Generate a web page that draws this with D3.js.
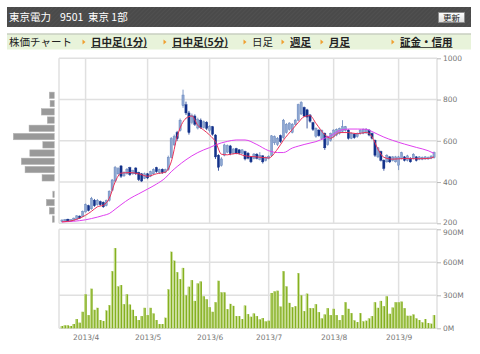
<!DOCTYPE html>
<html lang="ja">
<head>
<meta charset="UTF-8">
<title>東京電力 9501 日足</title>
<script src="https://d3js.org/d3.v7.min.js"></script>
<style>
body { margin: 0; background: #fff; }
svg text { font-family: "Noto Sans CJK JP", sans-serif; }
.axis text { font-family: "DejaVu Sans", sans-serif; font-size: 7.5px; fill: #777; }
.axis line { stroke: #bbb; }
.axis path { display: none; }
</style>
</head>
<body>
<svg id="chart" width="480" height="354"></svg>
<script>
// daily bars, 2013/3/19 .. 2013/9/19 (trading days)
var open  = [208,212,220,210,215,220,235,232,255,285,270,312,290,305,302,285,310,360,405,440,478,430,440,470,440,468,446,440,418,440,428,440,470,445,462,448,460,520,580,640,650,770,775,735,690,720,662,700,665,690,650,668,628,530,480,530,545,575,540,562,556,540,548,540,522,515,535,510,527,505,515,530,590,582,625,615,640,655,640,680,700,730,762,750,725,688,622,652,612,636,582,602,620,628,636,645,650,652,612,632,620,635,636,638,652,636,603,522,548,506,498,522,505,498,482,515,522,505,516,515,522,510,510,512,512,515,518];
var close = [216,218,212,218,225,236,225,258,290,262,320,285,312,290,280,310,355,410,470,465,428,445,462,436,455,440,412,405,440,420,450,460,450,460,446,460,520,610,620,610,700,822,735,640,722,680,702,665,692,660,670,632,522,472,512,580,576,538,560,540,540,556,512,516,498,536,515,530,498,520,525,624,620,612,596,700,680,686,680,700,775,785,720,715,695,655,660,625,650,566,620,636,652,655,660,668,668,612,636,615,636,652,656,656,628,612,530,566,506,466,530,498,522,522,522,542,505,527,498,535,505,522,520,522,520,526,543];
var high  = [219,221,222,220,228,240,238,262,296,290,328,318,318,310,306,315,360,415,478,472,482,452,468,474,460,472,450,444,446,444,455,466,474,465,466,465,528,618,630,648,708,848,790,745,732,728,712,708,698,695,676,672,632,535,520,586,582,580,565,566,560,560,552,545,526,540,540,545,530,524,530,628,626,618,630,706,686,690,686,706,780,792,766,755,730,692,665,656,655,640,625,640,656,660,664,700,672,656,640,636,640,656,660,662,656,640,606,570,552,510,535,526,526,527,527,547,526,532,520,540,526,526,524,526,524,530,548];
var low   = [205,209,209,208,213,218,222,230,252,258,266,280,286,285,275,282,305,355,400,435,420,425,436,430,435,434,405,400,414,414,424,436,445,440,440,443,455,515,575,600,645,760,725,630,680,672,655,658,660,652,640,625,512,455,475,525,540,530,535,535,534,536,505,510,492,510,510,505,490,500,510,526,580,575,590,610,635,650,636,675,695,725,715,660,688,648,615,620,605,556,576,596,616,622,630,640,645,606,608,610,615,630,632,634,622,606,522,516,500,455,494,492,500,494,458,510,500,500,494,510,500,506,506,508,508,511,514];
var volume = [21,27,27,21,39,84,51,150,309,120,360,168,186,75,66,162,210,519,729,381,393,219,309,216,168,111,75,111,186,120,186,135,75,39,39,96,354,696,615,510,447,549,300,378,438,249,408,426,291,264,192,150,237,432,327,327,174,222,204,111,111,84,207,129,105,135,111,81,93,63,69,321,336,342,198,519,381,231,192,201,501,300,156,315,183,183,219,147,90,126,183,120,177,120,75,120,237,177,138,72,57,138,63,69,90,111,237,186,249,201,291,132,189,237,237,243,183,114,114,126,90,75,54,84,48,42,120];

// moving averages, read at these bar indices
var maIdx   = [0,4,8,10,12,14,16,18,20,23,26,29,32,35,37,39,42,44,46,48,50,52,54,56,59,62,66,70,73,75,78,80,82,84,86,89,91,94,97,100,103,105,107,109,112,116,120,124,126];
var maShort = [207,215,239,258,280,288,320,400,443,446,440,428,440,448,498,620,709,720,675,652,628,595,535,532,539,527,522,517,560,603,655,688,717,722,685,630,612,640,640,634,641,620,560,520,511,514,513,514,522];
var maLong  = [207,210,217,223,230,238,247,268,290,320,343,366,390,420,450,475,508,527,543,556,567,580,590,597,604,604,582,552,543,543,565,574,582,589,596,613,624,650,657,657,656,645,631,618,602,584,568,552,539];

// volume by price (40 yen bins from 200)
var profileLow = [200,240,280,320,360,400,440,480,520,560,600,640,680,720,760,800];
var profileVol = [40,100,160,30,0,245,585,660,490,230,820,505,140,260,85,100];

var tickIdx    = [8,29,50,70,92,114];
var tickLabels = ["2013/4","2013/5","2013/6","2013/7","2013/8","2013/9"];
var priceTicks = [200,400,600,800,1000];
var volTicks   = [0,300,600,900];

var navItems = ["日中足(1分)","日中足(5分)","日足","週足","月足","証金・信用"];
var navX     = [91,172,252,290,329,400];
var navLink  = [true,true,false,true,true,true];

var svg = d3.select("#chart");
var n = close.length;

// ---- header ----
var defs = svg.append("defs");
var pat = defs.append("pattern").attr("id","hatch").attr("patternUnits","userSpaceOnUse")
  .attr("width",3).attr("height",3).attr("patternTransform","rotate(45)");
pat.append("rect").attr("width",3).attr("height",3).attr("fill","#4a4a4a");
pat.append("line").attr("x1",0).attr("y1",0).attr("x2",0).attr("y2",3).attr("stroke","#555").attr("stroke-width",1);

svg.append("rect").attr("x",7).attr("y",7).attr("width",464).attr("height",20).attr("fill","url(#hatch)");
svg.append("text").attr("x",9).attr("y",21).attr("fill","#fff").style("font-size","10.5px").text("東京電力");
svg.append("text").attr("x",60).attr("y",21).attr("fill","#fff").style("font-size","10.5px").text("9501");
svg.append("text").attr("x",88).attr("y",21).attr("fill","#fff").style("font-size","10.5px").text("東京 1部");

var grad = defs.append("linearGradient").attr("id","btn").attr("x1",0).attr("x2",0).attr("y1",0).attr("y2",1);
grad.append("stop").attr("offset","0%").attr("stop-color","#ffffff");
grad.append("stop").attr("offset","100%").attr("stop-color","#dcdcdc");
svg.append("rect").attr("x",438.5).attr("y",12.5).attr("width",26).attr("height",10).attr("fill","url(#btn)").attr("stroke","#888").attr("stroke-width",0.8);
svg.append("text").attr("x",451.5).attr("y",20.5).attr("text-anchor","middle").attr("fill","#222").style("font-size","8.5px").text("更新");

// ---- nav bar ----
svg.append("rect").attr("x",7).attr("y",34).attr("width",464).attr("height",15.5).attr("fill","#e8f3da");
svg.append("line").attr("x1",7).attr("x2",471).attr("y1",34).attr("y2",34).attr("stroke","#c9cfc0").attr("stroke-width",1.5);
svg.append("text").attr("x",9).attr("y",46).attr("fill","#222").style("font-size","10.5px").text("株価チャート");

navItems.forEach(function(t, i) {
  var tx = navX[i];
  svg.append("path").attr("d","M" + (tx-8.5) + ",39.5 L" + (tx-5.5) + ",42 L" + (tx-8.5) + ",44.5 Z").attr("fill","#f0a030");
  var el = svg.append("text").attr("x",tx).attr("y",46).attr("fill","#222")
    .style("font-size","10.5px").style("font-weight", navLink[i] ? "bold" : "normal").text(t);
  if (navLink[i]) {
    var w = el.node().getComputedTextLength();
    svg.append("line").attr("x1",tx).attr("x2",tx+w).attr("y1",47.5).attr("y2",47.5).attr("stroke","#222").attr("stroke-width",0.8);
  }
});

// ---- scales ----
var x  = d3.scaleLinear().domain([-1, n]).range([59, 437]);
var yP = d3.scaleLinear().domain([200, 1000]).range([223.3, 58.3]);
var yV = d3.scaleLinear().domain([0, 900]).range([328.3, 229.3]);

var grid = svg.append("g").attr("stroke","#e0e0e0").attr("stroke-width",1.5);
grid.selectAll(".hp").data(priceTicks).enter().append("line")
  .attr("x1",59).attr("x2",437).attr("y1",function(d){return yP(d);}).attr("y2",function(d){return yP(d);});
grid.selectAll(".hv").data(volTicks).enter().append("line")
  .attr("x1",59).attr("x2",437).attr("y1",function(d){return yV(d);}).attr("y2",function(d){return yV(d);});
tickIdx.forEach(function(d) {
  grid.append("line").attr("x1",x(d)).attr("x2",x(d)).attr("y1",yP(1000)).attr("y2",yP(200));
  grid.append("line").attr("x1",x(d)).attr("x2",x(d)).attr("y1",yV(900)).attr("y2",yV(0));
});
[59, 437].forEach(function(px) {
  grid.append("line").attr("x1",px).attr("x2",px).attr("y1",yP(1000)).attr("y2",yP(200));
  grid.append("line").attr("x1",px).attr("x2",px).attr("y1",yV(900)).attr("y2",yV(0));
});

// ---- axes ----
var pAxis = svg.append("g").attr("class","axis").attr("transform","translate(437,0)")
  .call(d3.axisRight(yP).tickValues(priceTicks).tickSize(4).tickPadding(2).tickFormat(d3.format("d")));
pAxis.selectAll(".tick text").filter(function(d){return d === 200;}).attr("dy","0.1em");
var vAxis = svg.append("g").attr("class","axis").attr("transform","translate(437,0)")
  .call(d3.axisRight(yV).tickValues(volTicks).tickSize(4).tickPadding(2).tickFormat(function(d){return d + "M";}));
vAxis.selectAll(".tick text").filter(function(d){return d === 900;}).attr("dy","0.75em");
svg.append("g").attr("class","axis").attr("transform","translate(0,328.3)")
  .call(d3.axisBottom(x).tickValues(tickIdx).tickSize(0).tickPadding(6).tickFormat(function(d,i){return tickLabels[i];}));

// ---- price profile ----
var pw = d3.scaleLinear().domain([0, 820]).range([0, 41]);
svg.append("g").selectAll("rect").data(profileLow).enter().append("rect")
  .attr("x", function(d,i){return 54.3 - pw(profileVol[i]);})
  .attr("width", function(d,i){return pw(profileVol[i]);})
  .attr("y", function(d){return yP(d + 40) + 0.8;})
  .attr("height", function(d){return yP(d) - yP(d + 40) - 1.8;})
  .attr("fill","#999").attr("stroke","#b5b5b5").attr("stroke-width",0.5);

// ---- volume bars ----
var vb = svg.append("g");
vb.selectAll(".v").data(volume).enter().append("rect")
  .attr("x", function(d,i){return x(i) - 1.2;}).attr("width",2.4)
  .attr("y", function(d){return yV(d);}).attr("height", function(d){return yV(0) - yV(d);})
  .attr("fill","#85b020");
vb.selectAll(".vl").data(volume).enter().append("rect")
  .attr("x", function(d,i){return x(i) - 1.2;}).attr("width",0.9)
  .attr("y", function(d){return yV(d);}).attr("height", function(d){return yV(0) - yV(d);})
  .attr("fill","#d2e5a4");

// ---- candles ----
var upFill = "#8ea7d2", upLine = "#5f7fb8", dnFill = "#12318a";
var cg = svg.append("g");
d3.range(n).forEach(function(i) {
  var up = close[i] >= open[i];
  cg.append("line").attr("x1",x(i)).attr("x2",x(i)).attr("y1",yP(high[i])).attr("y2",yP(low[i]))
    .attr("stroke", up ? upLine : dnFill).attr("stroke-width",0.8);
  var top = yP(Math.max(open[i], close[i])), bot = yP(Math.min(open[i], close[i]));
  cg.append("rect").attr("x", x(i) - 1.1).attr("width",2.2)
    .attr("y", top).attr("height", Math.max(1, bot - top))
    .attr("fill", up ? upFill : dnFill).attr("stroke", up ? upLine : dnFill).attr("stroke-width",0.4);
});

// ---- moving averages ----
var ma = d3.line().x(function(d){return x(d[0]);}).y(function(d){return yP(d[1]);}).curve(d3.curveMonotoneX);
svg.append("path").attr("d", ma(maIdx.map(function(d,i){return [d, maLong[i]];})))
  .attr("fill","none").attr("stroke","#e040f0").attr("stroke-width",1);
svg.append("path").attr("d", ma(maIdx.map(function(d,i){return [d, maShort[i]];})))
  .attr("fill","none").attr("stroke","#e83058").attr("stroke-width",1);
</script>
</body>
</html>
